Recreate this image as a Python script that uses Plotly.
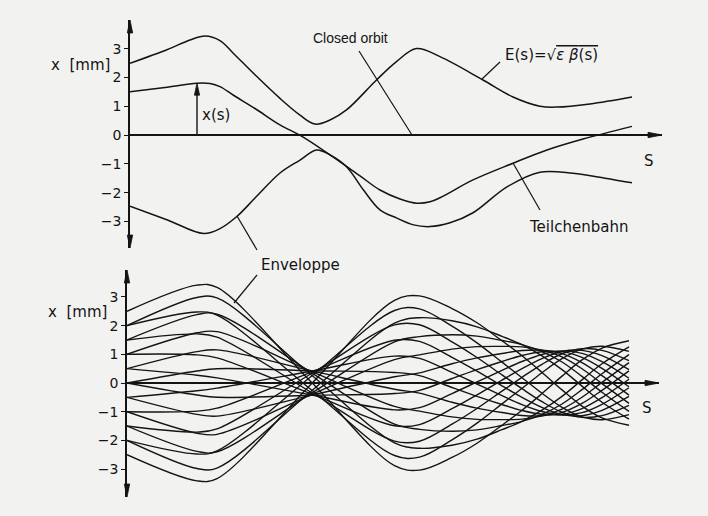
import plotly.graph_objects as go

W, H = 708, 516

# ---------------- data ----------------
TICK_VALS = [-3, -2, -1, 0, 1, 2, 3]
TICK_TEXT = ["\u22123", "\u22122", "\u22121", "0", "1", "2", "3"]

# upper panel: envelope E(s) (upper / lower branch) and one particle trajectory
S_ENV_UP = [0, 0.75, 1.2, 1.5, 1.8, 2.06, 2.5, 3.0, 3.4, 3.7, 4.0, 4.33, 4.93, 5.33, 5.73, 6.2, 7.06, 7.66, 8.2, 8.54, 9.2, 10.04]
X_ENV_UP = [2.49, 2.97, 3.3, 3.44, 3.28, 2.85, 2.09, 1.27, 0.69, 0.38, 0.52, 0.87, 1.91, 2.55, 3.0, 2.72, 1.91, 1.32, 1.0, 0.97, 1.08, 1.32]

S_ENV_LO = [0, 0.75, 1.47, 1.8, 2.13, 2.5, 3.0, 3.4, 3.73, 4.0, 4.33, 4.67, 5.0, 5.33, 5.67, 6.0, 6.4, 6.86, 7.54, 8.2, 8.86, 9.5, 10.04]
X_ENV_LO = [-2.47, -2.95, -3.42, -3.25, -2.84, -2.19, -1.32, -0.87, -0.52, -0.69, -1.1, -1.91, -2.6, -2.88, -3.12, -3.18, -3.05, -2.7, -1.8, -1.29, -1.33, -1.5, -1.66]

S_TEILCHEN = [0, 0.7, 1.34, 1.6, 1.8, 2.07, 2.5, 3.0, 3.43, 4.0, 4.6, 5.0, 5.4, 5.74, 6.0, 6.2, 6.86, 7.66, 8.34, 9.06, 10.04]
X_TEILCHEN = [1.5, 1.65, 1.8, 1.79, 1.68, 1.38, 0.92, 0.35, -0.04, -0.69, -1.42, -1.91, -2.22, -2.37, -2.32, -2.18, -1.56, -0.98, -0.52, -0.14, 0.3]

XS_ARROW_S = 1.34     # position of the x(s) arrow
XS_ARROW_X = 1.8      # its length (value of the trajectory there)

# lower panel: family of 20 trajectories sampled at common s nodes
S_NODES = [0, 1.4, 1.8, 3.7, 5.35, 5.85, 6.5, 7.0, 7.5, 7.9, 8.3, 8.7, 9.1, 9.5, 10.04]
TRAJ_P1 = [2.5, 3.41, 3.33, 0.005, -2.882, -3.037, -2.595, -2.099, -1.47, -0.949, -0.368, 0.239, 0.804, 1.218, 1.474]
TRAJ_M1 = [-2.5, -3.41, -3.33, -0.005, 2.882, 3.037, 2.595, 2.099, 1.47, 0.949, 0.368, -0.239, -0.804, -1.218, -1.474]
TRAJ_P2 = [2.0, 2.476, 2.365, -0.253, -2.527, -2.584, -1.983, -1.4, -0.726, -0.184, 0.359, 0.847, 1.178, 1.28, 1.1]
TRAJ_M2 = [-2.0, -2.476, -2.365, 0.253, 2.527, 2.584, 1.983, 1.4, 0.726, 0.184, -0.359, -0.847, -1.178, -1.28, -1.1]
TRAJ_P3 = [2.0, 2.98, 2.963, 0.262, -2.085, -2.275, -2.17, -1.958, -1.626, -1.335, -0.948, -0.466, 0.108, 0.669, 1.258]
TRAJ_M3 = [-2.0, -2.98, -2.963, -0.262, 2.085, 2.275, 2.17, 1.958, 1.626, 1.335, 0.948, 0.466, -0.108, -0.669, -1.258]
TRAJ_P4 = [1.5, 1.71, 1.6, -0.34, -2.024, -2.028, -1.433, -0.887, -0.282, 0.198, 0.651, 1.019, 1.195, 1.138, 0.779]
TRAJ_M4 = [-1.5, -1.71, -1.6, 0.34, 2.024, 2.028, 1.433, 0.887, 0.282, -0.198, -0.651, -1.019, -1.195, -1.138, -0.779]
TRAJ_P5 = [1.5, 2.382, 2.397, 0.346, -1.435, -1.616, -1.682, -1.632, -1.482, -1.337, -1.092, -0.732, -0.231, 0.324, 0.99]
TRAJ_M5 = [-1.5, -2.382, -2.397, -0.346, 1.435, 1.616, 1.682, 1.632, 1.482, 1.337, 1.092, 0.732, 0.231, -0.324, -0.99]
TRAJ_P6 = [1.0, 0.979, 0.876, -0.391, -1.49, -1.451, -0.896, -0.413, 0.1, 0.5, 0.851, 1.098, 1.138, 0.953, 0.469]
TRAJ_M6 = [-1.0, -0.979, -0.876, 0.391, 1.49, 1.451, 0.896, 0.413, -0.1, -0.5, -0.851, -1.098, -1.138, -0.953, -0.469]
TRAJ_P7 = [1.0, 1.749, 1.789, 0.395, -0.815, -0.978, -1.181, -1.266, -1.276, -1.259, -1.146, -0.907, -0.495, 0.021, 0.71]
TRAJ_M7 = [-1.0, -1.749, -1.789, -0.395, 0.815, 0.978, 1.181, 1.266, 1.276, 1.259, 1.146, 0.907, 0.495, -0.021, -0.71]
TRAJ_P8 = [0.5, 0.271, 0.178, -0.419, -0.937, -0.86, -0.367, 0.036, 0.441, 0.75, 0.994, 1.12, 1.034, 0.742, 0.166]
TRAJ_M8 = [-0.5, -0.271, -0.178, 0.419, 0.937, 0.86, 0.367, -0.036, -0.441, -0.75, -0.994, -1.12, -1.034, -0.742, -0.166]
TRAJ_P9 = [0.5, 1.094, 1.154, 0.421, -0.216, -0.355, -0.672, -0.876, -1.029, -1.13, -1.141, -1.024, -0.712, -0.255, 0.424]
TRAJ_M9 = [-0.5, -1.094, -1.154, -0.421, 0.216, 0.355, 0.672, 0.876, 1.029, 1.13, 1.141, 1.024, 0.712, 0.255, -0.424]
TRAJ_P10 = [0.0, -0.42, -0.498, -0.429, -0.368, -0.258, 0.156, 0.465, 0.75, 0.959, 1.09, 1.094, 0.891, 0.509, -0.132]
TRAJ_M10 = [0.0, 0.42, 0.498, 0.429, 0.368, 0.258, -0.156, -0.465, -0.75, -0.959, -1.09, -1.094, -0.891, -0.509, 0.132]

TRAJECTORIES = [TRAJ_P1, TRAJ_M1, TRAJ_P2, TRAJ_M2, TRAJ_P3, TRAJ_M3, TRAJ_P4, TRAJ_M4,
                TRAJ_P5, TRAJ_M5, TRAJ_P6, TRAJ_M6, TRAJ_P7, TRAJ_M7, TRAJ_P8, TRAJ_M8,
                TRAJ_P9, TRAJ_M9, TRAJ_P10, TRAJ_M10]

# ---------------- style / layout ----------------
BG = "#f2f2f1"
INK = "#141414"
FONT = "DejaVu Sans"
S_MAX = 10.64


def px(x):
    return x / W


def py(y):
    return 1 - y / H


fig = go.Figure()

line_style = dict(color=INK, width=1.5, shape="spline", smoothing=1.0)
for xs, ys in [(S_ENV_UP, X_ENV_UP), (S_ENV_LO, X_ENV_LO), (S_TEILCHEN, X_TEILCHEN)]:
    fig.add_trace(go.Scatter(x=xs, y=ys, mode="lines", line=line_style,
                             hoverinfo="skip", showlegend=False, xaxis="x", yaxis="y"))

for tr in TRAJECTORIES:
    fig.add_trace(go.Scatter(x=S_NODES, y=tr, mode="lines",
                             line=dict(color=INK, width=1.4, shape="spline", smoothing=1.0),
                             hoverinfo="skip", showlegend=False, xaxis="x2", yaxis="y2"))

yax_common = dict(
    showline=True, linecolor=INK, linewidth=1.7,
    ticks="outside", ticklen=4, tickwidth=1.3, tickcolor=INK,
    tickmode="array", tickvals=TICK_VALS, ticktext=TICK_TEXT,
    tickfont=dict(family=FONT, size=14, color=INK),
    zeroline=True, zerolinecolor=INK, zerolinewidth=1.7,
    showgrid=False, fixedrange=True,
)
xax_common = dict(visible=False, showgrid=False, zeroline=False, range=[0, S_MAX], fixedrange=True)

fig.update_layout(
    width=W, height=H,
    margin=dict(l=0, r=0, t=0, b=0),
    paper_bgcolor=BG, plot_bgcolor=BG,
    xaxis=dict(domain=[px(130), px(662)], anchor="y", **xax_common),
    yaxis=dict(domain=[py(248), py(20)], anchor="x", range=[(135 - 248) / 28.8, (135 - 20) / 28.8], **yax_common),
    xaxis2=dict(domain=[px(127), px(659)], anchor="y2", **xax_common),
    yaxis2=dict(domain=[py(497), py(270)], anchor="x2", range=[(383 - 497) / 28.7, (383 - 270) / 28.7], **yax_common),
)

shapes = []


def head(xa, ya, path, xref="paper", yref="paper"):
    shapes.append(dict(type="path", path=path, xsizemode="pixel", ysizemode="pixel",
                       xanchor=xa, yanchor=ya, xref=xref, yref=yref,
                       fillcolor=INK, line=dict(color=INK, width=0.8), layer="above"))


UP = "M0,0 L-2.7,-13 L2.7,-13 Z"
DOWN = "M0,0 L-2.7,13 L2.7,13 Z"
RIGHT = "M0,0 L-14,2.7 L-14,-2.7 Z"

# axis arrow heads
head(px(130), py(20), UP)
head(px(130), py(248), DOWN)
head(px(662), py(135), RIGHT)
head(px(127), py(270), UP)
head(px(127), py(497), DOWN)
head(px(659), py(383), RIGHT)

# x(s) arrow in the upper panel
shapes.append(dict(type="line", xref="x", yref="y", x0=XS_ARROW_S, x1=XS_ARROW_S, y0=0, y1=XS_ARROW_X - 0.2,
                   line=dict(color=INK, width=1.4)))
head(XS_ARROW_S, XS_ARROW_X, "M0,0 L-2.6,-12 L2.6,-12 Z", xref="x", yref="y")

# leader lines (pixel coordinates)
LEADERS = [
    ((359, 51), (412, 135)),   # closed orbit
    ((500, 62), (482, 79)),    # E(s)
    ((540, 210), (513, 163)),  # Teilchenbahn
    ((257, 250), (237, 216)),  # Enveloppe -> upper panel
    ((257, 275), (234, 303)),  # Enveloppe -> lower panel
]
for (xa, ya), (xb, yb) in LEADERS:
    shapes.append(dict(type="line", xref="paper", yref="paper",
                       x0=px(xa), y0=py(ya), x1=px(xb), y1=py(yb),
                       line=dict(color=INK, width=1.2)))

fig.update_layout(shapes=shapes)


def label(x, y, text, size=15, family=FONT):
    fig.add_annotation(x=px(x), y=py(y), xref="paper", yref="paper", text=text,
                       showarrow=False, xanchor="center", yanchor="middle",
                       font=dict(family=family, size=size, color=INK))


label(80, 65, "x\u00a0 [mm]")
label(77, 312, "x\u00a0 [mm]")
label(350, 38, "Closed orbit", size=14, family="Liberation Sans")
label(551, 55, "E(s)=\u221a<span style='text-decoration:overline'><i>\u03b5 \u03b2</i>(s)</span>")
label(578, 227, "Teilchenbahn")
label(300, 265, "Enveloppe")
label(216, 115, "x(s)")
label(649, 161, "S")
label(647, 408, "S")

fig.write_html("out.html")
